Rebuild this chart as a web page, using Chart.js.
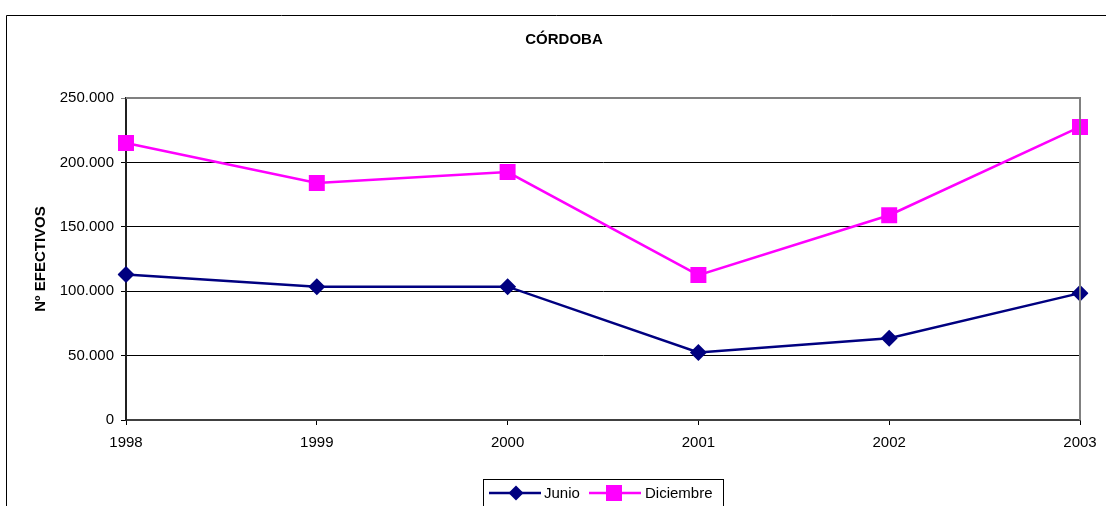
<!DOCTYPE html>
<html>
<head>
<meta charset="utf-8">
<script src="https://cdn.jsdelivr.net/npm/chart.js@4.4.1/dist/chart.umd.min.js"></script>
<style>
  html, body { margin: 0; padding: 0; background: #fff; }
  #wrap { width: 1107px; height: 506px; position: relative; }
</style>
</head>
<body>
<div id="wrap"><canvas id="chart"></canvas></div>
<script>
// Chart data
const years = ['1998', '1999', '2000', '2001', '2002', '2003'];
const junio = [113000, 103500, 103500, 52500, 63500, 98500];
const diciembre = [215000, 184000, 192500, 112500, 159000, 227500];
const yTicks = [0, 50000, 100000, 150000, 200000, 250000];

const FONT = 'Arial, "Liberation Sans", sans-serif';

function fmt(v) {
    return v.toString().replace(/\B(?=(\d{3})+(?!\d))/g, '.');
}

// frame, title, axis title, plot border and legend
const decorPlugin = {
    id: 'decor',
    afterDraw(chart) {
        const ctx = chart.ctx;
        const area = chart.chartArea;
        ctx.save();

        // outer frame
        ctx.strokeStyle = '#000';
        ctx.lineWidth = 1;
        ctx.beginPath();
        ctx.moveTo(6.5, 506);
        ctx.lineTo(6.5, 15.5);
        ctx.lineTo(1106, 15.5);
        ctx.stroke();

        // title
        ctx.fillStyle = '#000';
        ctx.font = 'bold 15px ' + FONT;
        ctx.textAlign = 'center';
        ctx.textBaseline = 'middle';
        ctx.fillText('CÓRDOBA', 564, 40);

        // y axis title
        ctx.save();
        ctx.translate(41, 259);
        ctx.rotate(-Math.PI / 2);
        ctx.fillText('Nº EFECTIVOS', 0, 0);
        ctx.restore();

        // plot border top/right
        ctx.strokeStyle = '#808080';
        ctx.lineWidth = 2;
        ctx.beginPath();
        ctx.moveTo(area.left, area.top);
        ctx.lineTo(area.right, area.top);
        ctx.lineTo(area.right, area.bottom);
        ctx.stroke();

        // legend
        ctx.strokeStyle = '#000';
        ctx.lineWidth = 1;
        ctx.strokeRect(483.5, 479.5, 240, 40);
        const ly = 493;
        ctx.lineWidth = 2.5;
        ctx.strokeStyle = '#000080';
        ctx.beginPath();
        ctx.moveTo(489, ly);
        ctx.lineTo(541, ly);
        ctx.stroke();
        ctx.fillStyle = '#000080';
        ctx.beginPath();
        ctx.moveTo(516, ly - 7.5);
        ctx.lineTo(523.5, ly);
        ctx.lineTo(516, ly + 7.5);
        ctx.lineTo(508.5, ly);
        ctx.closePath();
        ctx.fill();

        ctx.strokeStyle = '#ff00ff';
        ctx.beginPath();
        ctx.moveTo(589, ly);
        ctx.lineTo(641, ly);
        ctx.stroke();
        ctx.fillStyle = '#ff00ff';
        ctx.fillRect(606, ly - 8, 16, 16);

        ctx.fillStyle = '#000';
        ctx.font = '15px ' + FONT;
        ctx.textAlign = 'left';
        ctx.fillText('Junio', 544, ly + 1);
        ctx.fillText('Diciembre', 645, ly + 1);

        ctx.restore();
    }
};

const ctx = document.getElementById('chart');
new Chart(ctx, {
    type: 'line',
    data: {
        labels: years,
        datasets: [
            {
                label: 'Junio',
                data: junio,
                borderColor: '#000080',
                backgroundColor: '#000080',
                borderWidth: 2.5,
                pointStyle: 'rectRot',
                pointRadius: 8.5,
                pointBorderWidth: 0,
                tension: 0
            },
            {
                label: 'Diciembre',
                data: diciembre,
                borderColor: '#ff00ff',
                backgroundColor: '#ff00ff',
                borderWidth: 2.5,
                pointStyle: 'rect',
                pointRadius: 11.3,
                pointBorderWidth: 0,
                tension: 0
            }
        ]
    },
    options: {
        responsive: true,
        maintainAspectRatio: false,
        animation: false,
        layout: {
            padding: { left: 0, top: 98, right: 27, bottom: 0 }
        },
        plugins: {
            legend: { display: false },
            tooltip: { enabled: false }
        },
        scales: {
            x: {
                type: 'category',
                offset: false,
                afterFit: function(scale) { scale.height = 86; },
                grid: {
                    drawOnChartArea: false,
                    drawTicks: true,
                    tickLength: 5,
                    color: '#000',
                    lineWidth: 1
                },
                border: { display: true, color: '#404040', width: 2 },
                ticks: {
                    color: '#000',
                    font: { family: FONT, size: 15 },
                    padding: 9,
                    maxRotation: 0
                }
            },
            y: {
                min: 0,
                max: 250000,
                afterFit: function(scale) { scale.width = 126; },
                afterBuildTicks: function(scale) {
                    scale.ticks = yTicks.map(v => ({ value: v }));
                },
                grid: {
                    color: function(c) {
                        return c.tick && c.tick.value === 250000 ? '#808080' : '#000';
                    },
                    lineWidth: 1,
                    drawTicks: true,
                    tickLength: 5
                },
                border: { display: true, color: '#202020', width: 2 },
                ticks: {
                    color: '#000',
                    font: { family: FONT, size: 15 },
                    padding: 7,
                    callback: function(v) { return fmt(v); }
                }
            }
        }
    },
    plugins: [decorPlugin]
});
</script>
</body>
</html>
